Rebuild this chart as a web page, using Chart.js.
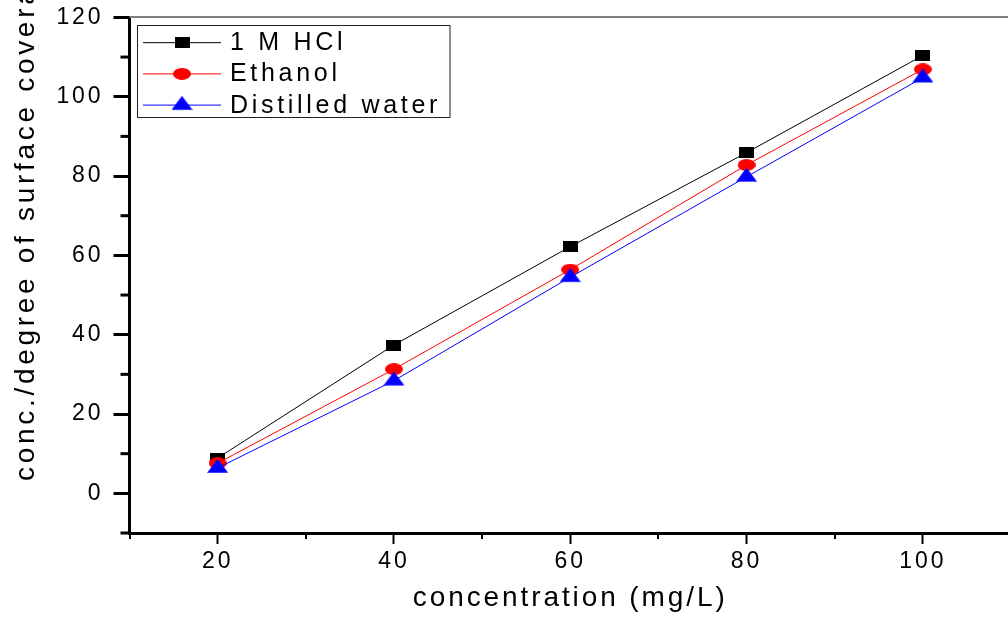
<!DOCTYPE html>
<html>
<head>
<meta charset="utf-8">
<script src="https://cdn.jsdelivr.net/npm/chart.js@4.4.1/dist/chart.umd.min.js"></script>
<style>
  html, body { margin: 0; padding: 0; background: #fff; }
  #wrap { width: 1008px; height: 618px; overflow: hidden; }
</style>
</head>
<body>
<div id="wrap"><canvas id="myViz" width="1020" height="618"></canvas></div>
<script>
// concentration (mg/L) on x, three solvents
const concentrations = [20, 40, 60, 80, 100];
const hclValues = [8.9, 37.4, 62.2, 85.9, 110.4];
const ethanolValues = [7.6, 31.3, 56.4, 82.8, 106.9];
const waterValues = [6.4, 28.4, 54.5, 79.8, 104.8];
const seriesNames = ['1 M HCl', 'Ethanol', 'Distilled water'];

const xTickLabels = [20, 40, 60, 80, 100];
const yTickLabels = [0, 20, 40, 60, 80, 100, 120];

const xTitle = 'concentration (mg/L)';
const yTitle = 'conc./degree of surface coverage';

const FONT = "'Liberation Sans', Arial, sans-serif";
const AXIS_SPACING = '2.9px';
const TITLE_SPACING = '3.7px';
const LEGEND_SPACING = '3.7px';

// small canvases used as point styles
const makeMarker = (shape, color, w, h) => {
    const c = document.createElement('canvas');
    c.width = w;
    c.height = h;
    const g = c.getContext('2d');
    g.fillStyle = color;
    if (shape === 'square') {
        g.fillRect(0, 0, w, h);
    } else if (shape === 'ellipse') {
        g.beginPath();
        g.ellipse(w / 2, h / 2, w / 2, h / 2, 0, 0, Math.PI * 2);
        g.fill();
    } else {
        // triangle: reference point sits 2/3 of the way down from the apex
        const th = 14;
        const top = h / 2 - (th * 2) / 3;
        g.beginPath();
        g.moveTo(w / 2, top);
        g.lineTo(w, top + th);
        g.lineTo(0, top + th);
        g.closePath();
        g.fill();
    }
    return c;
};

const squareMark = makeMarker('square', '#000000', 15, 11);
const circleMark = makeMarker('ellipse', '#ff0000', 18, 12);
const triangleMark = makeMarker('triangle', '#0000ff', 21, 20);

const toPoints = (ys) => concentrations.map((x, i) => ({ x: x, y: ys[i] }));

const spacingPlugin = {
    id: 'spacing',
    beforeUpdate: (chart) => { chart.ctx.letterSpacing = AXIS_SPACING; },
    beforeLayout: (chart) => { chart.ctx.letterSpacing = AXIS_SPACING; },
    beforeDraw: (chart) => { chart.ctx.letterSpacing = AXIS_SPACING; },
};

// short minor ticks between the labelled ones, plus the grey top frame line
const framePlugin = {
    id: 'frame',
    afterDraw: (chart) => {
        const ctx = chart.ctx;
        const area = chart.chartArea;
        const xs = chart.scales.x;
        const ys = chart.scales.y;
        ctx.save();
        ctx.strokeStyle = '#808080';
        ctx.lineWidth = 2;
        ctx.beginPath();
        ctx.moveTo(area.left, area.top - 0.5);
        ctx.lineTo(area.right + 10, area.top - 0.5);
        ctx.stroke();

        ctx.strokeStyle = '#000';
        ctx.lineWidth = 2;
        xs.ticks.forEach((t) => {
            if (xTickLabels.includes(t.value)) return;
            const px = Math.round(xs.getPixelForValue(t.value));
            ctx.beginPath();
            ctx.moveTo(px, area.bottom);
            ctx.lineTo(px, area.bottom + 6);
            ctx.stroke();
        });
        ctx.lineWidth = 3;
        ys.ticks.forEach((t) => {
            if (yTickLabels.includes(t.value)) return;
            const py = ys.getPixelForValue(t.value);
            ctx.beginPath();
            ctx.moveTo(area.left - 9, py);
            ctx.lineTo(area.left, py);
            ctx.stroke();
        });
        ctx.restore();
    },
};

// rotated y title, anchored at its start so the end runs off the top
const yTitlePlugin = {
    id: 'yTitle',
    afterDraw: (chart) => {
        const ctx = chart.ctx;
        ctx.save();
        ctx.letterSpacing = TITLE_SPACING;
        ctx.font = '28px ' + FONT;
        ctx.fillStyle = '#000';
        ctx.textAlign = 'left';
        ctx.textBaseline = 'alphabetic';
        ctx.translate(34, 481);
        ctx.rotate(-Math.PI / 2);
        ctx.fillText(yTitle, 0, 0);
        ctx.restore();
    },
};

// boxed legend with line + marker samples
const legendPlugin = {
    id: 'boxLegend',
    afterDraw: (chart) => {
        const ctx = chart.ctx;
        ctx.save();
        ctx.fillStyle = '#fff';
        ctx.fillRect(137.5, 25.5, 312.5, 92);
        ctx.strokeStyle = '#222';
        ctx.lineWidth = 1;
        ctx.strokeRect(137.5, 25.5, 312.5, 92);
        ctx.letterSpacing = LEGEND_SPACING;
        ctx.font = '25px ' + FONT;
        ctx.textAlign = 'left';
        ctx.textBaseline = 'alphabetic';
        chart.data.datasets.forEach((ds, i) => {
            const y = 42.7 + i * 31.2;
            ctx.strokeStyle = ds.borderColor;
            ctx.beginPath();
            ctx.moveTo(143, y);
            ctx.lineTo(221, y);
            ctx.stroke();
            const m = ds.pointStyle;
            ctx.drawImage(m, 182 - m.width / 2, y - m.height / 2);
            ctx.fillStyle = '#000';
            ctx.fillText(ds.label, 230, y + 7.5);
        });
        ctx.restore();
    },
};

const config = {
    type: 'line',
    data: {
        datasets: [
            {
                label: seriesNames[0],
                data: toPoints(hclValues),
                borderColor: '#000000',
                backgroundColor: '#000000',
                pointStyle: squareMark,
                order: 3,
            },
            {
                label: seriesNames[1],
                data: toPoints(ethanolValues),
                borderColor: '#ff0000',
                backgroundColor: '#ff0000',
                pointStyle: circleMark,
                order: 2,
            },
            {
                label: seriesNames[2],
                data: toPoints(waterValues),
                borderColor: '#0000ff',
                backgroundColor: '#0000ff',
                pointStyle: triangleMark,
                order: 1,
            },
        ],
    },
    plugins: [spacingPlugin, framePlugin, yTitlePlugin, legendPlugin],
    options: {
        responsive: false,
        animation: false,
        devicePixelRatio: 1,
        layout: {
            padding: { top: 17.4, right: 3.7, bottom: 0, left: 0 },
        },
        elements: {
            line: { borderWidth: 1, tension: 0 },
            point: { radius: 8, hoverRadius: 8 },
        },
        scales: {
            x: {
                type: 'linear',
                min: 10,
                max: 110,
                afterFit: (scale) => {
                    scale.height = 85;
                    scale.paddingLeft = 0;
                    scale.paddingRight = 0;
                },
                border: { display: true, color: '#000', width: 3 },
                grid: {
                    drawOnChartArea: false,
                    drawTicks: true,
                    tickLength: 11,
                    tickWidth: 2,
                    tickColor: (c) => (c.tick && xTickLabels.includes(c.tick.value) ? '#000' : 'rgba(0,0,0,0)'),
                },
                ticks: {
                    stepSize: 10,
                    autoSkip: false,
                    maxRotation: 0,
                    padding: 4,
                    color: '#000',
                    font: { family: FONT, size: 23 },
                    callback: (v) => (xTickLabels.includes(v) ? String(v) : ''),
                },
                title: {
                    display: true,
                    text: xTitle,
                    color: '#000',
                    font: { family: FONT, size: 28 },
                    padding: { top: 0, bottom: 3 },
                },
            },
            y: {
                type: 'linear',
                min: -10,
                max: 120,
                afterFit: (scale) => {
                    scale.width = 129.5;
                    scale.paddingTop = 0;
                    scale.paddingBottom = 0;
                },
                border: { display: true, color: '#000', width: 3 },
                grid: {
                    drawOnChartArea: false,
                    drawTicks: true,
                    tickLength: 16,
                    tickWidth: 3,
                    tickColor: (c) => (c.tick && yTickLabels.includes(c.tick.value) ? '#000' : 'rgba(0,0,0,0)'),
                },
                ticks: {
                    stepSize: 10,
                    autoSkip: false,
                    padding: 10,
                    color: '#000',
                    font: { family: FONT, size: 23 },
                    callback: (v) => (yTickLabels.includes(v) ? String(v) : ''),
                },
            },
        },
        plugins: {
            legend: { display: false },
            tooltip: { enabled: false },
        },
    },
};

const ctx = document.getElementById('myViz').getContext('2d');
const myChart = new Chart(ctx, config);
</script>
</body>
</html>
